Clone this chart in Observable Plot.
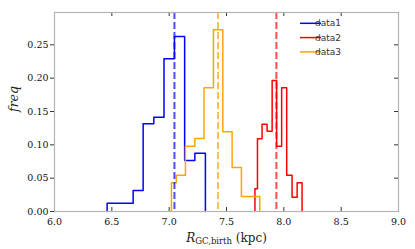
<!DOCTYPE html>
<html><head><meta charset="utf-8">
<script src="https://cdn.jsdelivr.net/npm/d3@7"></script>
<script src="https://cdn.jsdelivr.net/npm/@observablehq/plot@0.6"></script>
<style>body{margin:0;background:#fff} #chart{width:415px;height:249px}</style>
</head><body><div id="chart"></div>
<script>
// ---- data ----
const xTicks = [6.0, 6.5, 7.0, 7.5, 8.0, 8.5, 9.0];
const yTicks = [0.00, 0.05, 0.10, 0.15, 0.20, 0.25];
const seriesNames = ["data1", "data2", "data3"];
const seriesColors = ["#0000ff", "#ff0000", "#ffa500"];

const data1Edges = [6.459, 6.686, 6.773, 6.866, 6.955, 7.046, 7.135, 7.224, 7.316];
const data1Freq  = [0.0125, 0.0315, 0.1315, 0.1415, 0.229, 0.2625, 0.0765, 0.0875];

const data2Edges = [7.748, 7.770, 7.810, 7.854, 7.898, 7.937, 7.981, 8.025, 8.072, 8.116, 8.159];
const data2Freq  = [0.034, 0.109, 0.131, 0.1205, 0.1965, 0.098, 0.1855, 0.0545, 0.0215, 0.043];

const data3Edges = [7.020, 7.062, 7.142, 7.224, 7.304, 7.386, 7.468, 7.549, 7.630, 7.790];
const data3Freq  = [0.043, 0.0545, 0.098, 0.1095, 0.1855, 0.2725, 0.1195, 0.066, 0.0225];

const seriesMeans = [7.046, 7.935, 7.426];

const xLabelText = "R_GC,birth (kpc)";
const yLabelText = "freq";

// ---- build tables ----
function steps(name, edges, freq) {
  const pts = [{x: edges[0], y: 0, s: name}];
  freq.forEach((f, i) => pts.push({x: edges[i], y: f, s: name}));
  pts.push({x: edges[edges.length - 1], y: 0, s: name});
  return pts;
}
const histPts = [
  ...steps("data1", data1Edges, data1Freq),
  ...steps("data2", data2Edges, data2Freq),
  ...steps("data3", data3Edges, data3Freq)
];
const meanRows = seriesNames.map((s, i) => ({s, m: seriesMeans[i]}));

const W = 415, H = 249, mL = 54, mR = 17, mT = 12, mB = 38;
const innerW = W - mL - mR, innerH = H - mT - mB;

const svg = Plot.plot({
  width: W, height: H,
  marginLeft: mL, marginRight: mR, marginTop: mT, marginBottom: mB,
  style: {fontFamily: "'DejaVu Serif', serif", fontSize: "9.5px", color: "#111", background: "white"},
  x: {domain: [6, 9]},
  y: {domain: [0, 0.2985]},
  color: {domain: seriesNames, range: seriesColors},
  marks: [
    Plot.axisX(xTicks, {tickSize: 0, tickPadding: 7, tickFormat: d3.format(".1f"), label: null}),
    Plot.axisY(yTicks, {tickSize: 4, tickPadding: 2, tickFormat: d3.format(".2f"), label: null, stroke: "#333"}),
    Plot.tickX(xTicks, {x: d => d, insetTop: innerH - 4, stroke: "#333"}),
    Plot.tickX(xTicks, {x: d => d, insetBottom: innerH - 4, stroke: "#333"}),
    Plot.tickY(yTicks, {y: d => d, insetLeft: innerW - 4, stroke: "#333"}),
    Plot.line(histPts, {x: "x", y: "y", z: "s", stroke: "s", curve: "step-after", strokeWidth: 1.5}),
    Plot.ruleX(meanRows, {x: "m", stroke: "s", strokeWidth: 2, strokeOpacity: 0.7, strokeDasharray: "7,3"}),
    Plot.frame({stroke: "#b4b4b4", strokeWidth: 1.2}),
    Plot.text([yLabelText], {frameAnchor: "left", dx: -41, rotate: -90, fontStyle: "italic", fontSize: 12.5, fill: "#222"}),
    Plot.text([xLabelText], {frameAnchor: "bottom", dy: 30, fontSize: 12, fill: "#222"})
  ]
});
document.getElementById("chart").appendChild(svg);

// x label with subscript
const xl = d3.select(svg).selectAll("text").filter(function() { return this.textContent === xLabelText; });
xl.text(null);
xl.append("tspan").attr("font-style", "italic").text("R");
xl.append("tspan").attr("font-size", "8.5px").attr("dy", "2.5").text("GC,birth");
xl.append("tspan").attr("dy", "-2.5").text(" (kpc)");

// legend
const lg = d3.select(svg).append("g").attr("font-family", "'DejaVu Sans', sans-serif").attr("font-size", "9px");
seriesNames.forEach((s, i) => {
  const y = 23.3 + i * 14.3;
  lg.append("line").attr("x1", 300).attr("x2", 321).attr("y1", y).attr("y2", y)
    .attr("stroke", seriesColors[i]).attr("stroke-width", 1.5);
  lg.append("text").attr("x", 328).attr("y", y).attr("dy", "0.35em").attr("fill", "#333").text(s);
});
</script>
</body></html>
